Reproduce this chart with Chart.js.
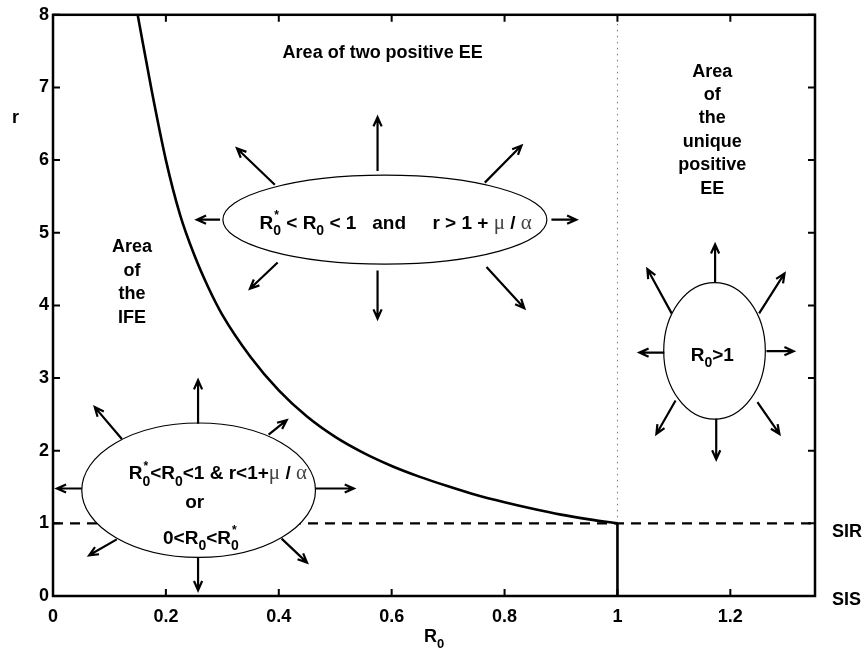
<!DOCTYPE html>
<html>
<head>
<meta charset="utf-8">
<script src="https://cdn.jsdelivr.net/npm/chart.js@4.4.0/dist/chart.umd.min.js"></script>
<style>
html, body { margin: 0; padding: 0; background: #fff; }
canvas { display: block; }
</style>
</head>
<body>
<canvas id="graphique" width="866" height="658"></canvas>
<script>
// boundary between the IFE region and the two-EE region (r against R0)
var r0Values = [0.150, 0.175, 0.200, 0.225, 0.250, 0.275, 0.300, 0.350, 0.400, 0.450, 0.500, 0.550, 0.600, 0.650, 0.700, 0.750, 0.800, 0.850, 0.900, 0.950, 1.000];
var rValues  = [8.00, 6.95, 6.00, 5.25, 4.70, 4.25, 3.87, 3.29, 2.83, 2.47, 2.19, 1.97, 1.79, 1.64, 1.51, 1.39, 1.29, 1.20, 1.12, 1.055, 1.00];

var xTicks = [0, 0.2, 0.4, 0.6, 0.8, 1, 1.2];
var xTickLabels = ['0', '0.2', '0.4', '0.6', '0.8', '1', '1.2'];
var yTicks = [0, 1, 2, 3, 4, 5, 6, 7, 8];

var sirLevel = 1;      // r = 1 (SIR line)
var r0Threshold = 1;   // R0 = 1
var xMax = 1.35;
var yMax = 8;

var FONT = '"Liberation Sans", Arial, Helvetica, sans-serif';
function bold(size) { return 'bold ' + size + 'px ' + FONT; }

// the three regions: ellipse (centre / radii in axis units), its arrows and its text
var regions = [
  {
    ell: { x: 0.588, y: 5.18, rx: 0.287, ry: 0.612 },
    arrows: [
      [0.883, 5.18, 0.927, 5.18], [0.296, 5.18, 0.255, 5.18],
      [0.575, 5.85, 0.575, 6.59], [0.575, 4.48, 0.575, 3.82],
      [0.393, 5.66, 0.326, 6.16], [0.765, 5.69, 0.830, 6.20],
      [0.398, 4.59, 0.349, 4.23], [0.768, 4.53, 0.835, 3.96]
    ],
    lines: [
      { x: 0.607, y: 5.05, parts: [
        { t: 'R', sub: '0', sup: '*' }, { t: ' < R', sub: '0' }, { t: ' < 1   and     r > 1 + ' },
        { t: '\u03bc', light: true }, { t: ' / ' }, { t: '\u03b1', light: true } ] }
    ]
  },
  {
    ell: { x: 0.258, y: 1.456, rx: 0.207, ry: 0.925 },
    arrows: [
      [0.257, 2.37, 0.257, 2.97], [0.257, 0.53, 0.257, 0.08],
      [0.051, 1.48, 0.007, 1.48], [0.465, 1.48, 0.533, 1.48],
      [0.122, 2.16, 0.074, 2.60], [0.382, 2.22, 0.414, 2.42],
      [0.113, 0.78, 0.064, 0.56], [0.405, 0.79, 0.450, 0.46]
    ],
    lines: [
      { x: 0.292, y: 1.605, parts: [
        { t: 'R', sub: '0', sup: '*' }, { t: '<R', sub: '0' }, { t: '<1 & r<1+' },
        { t: '\u03bc', light: true }, { t: ' / ' }, { t: '\u03b1', light: true } ] },
      { x: 0.251, y: 1.21, parts: [{ t: 'or' }] },
      { x: 0.262, y: 0.72, parts: [{ t: '0<R', sub: '0' }, { t: '<R', sub: '0', sup: '*' }] }
    ]
  },
  {
    ell: { x: 1.172, y: 3.374, rx: 0.090, ry: 0.939 },
    arrows: [
      [1.173, 4.31, 1.173, 4.84], [1.175, 2.44, 1.175, 1.88],
      [1.083, 3.35, 1.039, 3.35], [1.264, 3.37, 1.312, 3.37],
      [1.096, 3.89, 1.053, 4.50], [1.251, 3.89, 1.296, 4.44],
      [1.103, 2.69, 1.069, 2.23], [1.248, 2.67, 1.287, 2.23]
    ],
    lines: [
      { x: 1.168, y: 3.24, parts: [{ t: 'R', sub: '0' }, { t: '>1' }] }
    ]
  }
];

// region captions
var captions = [
  { x: 0.584, y: 7.40, lines: ['Area of two positive EE'] },
  { x: 1.168, y: 7.15, lines: ['Area', 'of', 'the', 'unique', 'positive', 'EE'] },
  { x: 0.140, y: 4.73, lines: ['Area', 'of', 'the', 'IFE'] }
];

function partWidth(ctx, p, size) {
  ctx.font = p.light ? 'normal ' + (size + 2) + 'px "Liberation Serif", serif' : bold(size);
  var w = ctx.measureText(p.t).width, extra = 0;
  if (p.sub) { ctx.font = bold(Math.round(size * 0.72)); extra = ctx.measureText(p.sub).width; }
  if (p.sup) { ctx.font = bold(Math.round(size * 0.62)); extra = Math.max(extra, ctx.measureText(p.sup).width); }
  return w + extra;
}

function drawRich(ctx, parts, cx, base, size) {
  var total = 0;
  parts.forEach(function (p) { total += partWidth(ctx, p, size); });
  var x = cx - total / 2;
  ctx.textAlign = 'left';
  ctx.textBaseline = 'alphabetic';
  parts.forEach(function (p) {
    ctx.font = p.light ? 'normal ' + (size + 2) + 'px "Liberation Serif", serif' : bold(size);
    ctx.fillStyle = p.light ? '#444' : '#000';
    ctx.fillText(p.t, x, base);
    var w = ctx.measureText(p.t).width, extra = 0;
    ctx.fillStyle = '#000';
    if (p.sub) {
      ctx.font = bold(Math.round(size * 0.72));
      ctx.fillText(p.sub, x + w, base + size * 0.33);
      extra = ctx.measureText(p.sub).width;
    }
    if (p.sup) {
      ctx.font = bold(Math.round(size * 0.62));
      ctx.fillText(p.sup, x + w + 1, base - size * 0.52);
      extra = Math.max(extra, ctx.measureText(p.sup).width);
    }
    x += w + extra;
  });
}

function arrow(ctx, x1, y1, x2, y2) {
  var a = Math.atan2(y2 - y1, x2 - x1), h = 10, s = 0.42;
  ctx.beginPath();
  ctx.moveTo(x1, y1);
  ctx.lineTo(x2, y2);
  ctx.moveTo(x2 - h * Math.cos(a - s), y2 - h * Math.sin(a - s));
  ctx.lineTo(x2, y2);
  ctx.lineTo(x2 - h * Math.cos(a + s), y2 - h * Math.sin(a + s));
  ctx.stroke();
}

var decorations = {
  id: 'decorations',
  afterDatasetsDraw: function (chart) {
    var ctx = chart.ctx, xs = chart.scales.x, ys = chart.scales.y, area = chart.chartArea;
    ctx.save();

    // ellipses, arrows and conditions
    regions.forEach(function (g) {
      var cx = xs.getPixelForValue(g.ell.x), cy = ys.getPixelForValue(g.ell.y);
      var rx = xs.getPixelForValue(g.ell.x + g.ell.rx) - cx;
      var ry = cy - ys.getPixelForValue(g.ell.y + g.ell.ry);
      ctx.beginPath();
      ctx.ellipse(cx, cy, rx, ry, 0, 0, Math.PI * 2);
      ctx.fillStyle = '#fff';
      ctx.fill();
      ctx.lineWidth = 1.2;
      ctx.strokeStyle = '#000';
      ctx.stroke();

      ctx.lineWidth = 2.2;
      ctx.lineCap = 'butt';
      ctx.lineJoin = 'miter';
      g.arrows.forEach(function (a) {
        arrow(ctx, xs.getPixelForValue(a[0]), ys.getPixelForValue(a[1]),
                   xs.getPixelForValue(a[2]), ys.getPixelForValue(a[3]));
      });

      g.lines.forEach(function (l) {
        drawRich(ctx, l.parts, xs.getPixelForValue(l.x), ys.getPixelForValue(l.y), 19);
      });
    });

    // captions
    ctx.fillStyle = '#000';
    ctx.font = bold(18);
    ctx.textAlign = 'center';
    ctx.textBaseline = 'alphabetic';
    captions.forEach(function (c) {
      var px = xs.getPixelForValue(c.x), py = ys.getPixelForValue(c.y);
      c.lines.forEach(function (t, i) { ctx.fillText(t, px, py + i * 23.4); });
    });

    // frame with inward ticks
    ctx.strokeStyle = '#000';
    ctx.lineWidth = 2.5;
    ctx.strokeRect(area.left, area.top, area.right - area.left, area.bottom - area.top);
    ctx.lineWidth = 2;
    ctx.beginPath();
    xTicks.forEach(function (v) {
      var p = xs.getPixelForValue(v);
      ctx.moveTo(p, area.bottom); ctx.lineTo(p, area.bottom - 7);
      ctx.moveTo(p, area.top); ctx.lineTo(p, area.top + 7);
    });
    yTicks.forEach(function (v) {
      var p = ys.getPixelForValue(v);
      ctx.moveTo(area.left, p); ctx.lineTo(area.left + 7, p);
      ctx.moveTo(area.right, p); ctx.lineTo(area.right - 7, p);
    });
    ctx.stroke();

    // axis titles and model labels
    ctx.textAlign = 'left';
    ctx.font = bold(18);
    ctx.fillText('r', area.left - 41, area.top + 108);
    drawRich(ctx, [{ t: 'R', sub: '0' }], (area.left + area.right) / 2, area.bottom + 46, 18);
    ctx.font = bold(18);
    ctx.textAlign = 'left';
    ctx.fillText('SIR', area.right + 17, ys.getPixelForValue(sirLevel) + 14);
    ctx.fillText('SIS', area.right + 17, ys.getPixelForValue(0) + 9);
    ctx.restore();
  }
};

var ctx = document.getElementById('graphique').getContext('2d');

var donnees = {
  datasets: [
    {
      label: 'boundary',
      data: r0Values.map(function (v, i) { return { x: v, y: rValues[i] }; }),
      showLine: true, borderColor: '#000', borderWidth: 2.6, pointRadius: 0,
      cubicInterpolationMode: 'monotone'
    },
    {
      label: 'SIR',
      data: [{ x: 0, y: sirLevel }, { x: xMax, y: sirLevel }],
      showLine: true, borderColor: '#000', borderWidth: 2.2, borderDash: [10, 7], pointRadius: 0
    },
    {
      label: 'threshold',
      data: [{ x: r0Threshold, y: sirLevel }, { x: r0Threshold, y: yMax }],
      showLine: true, borderColor: '#777', borderWidth: 1, borderDash: [1.5, 4.5], pointRadius: 0
    },
    {
      label: 'SIS',
      data: [{ x: r0Threshold, y: 0 }, { x: r0Threshold, y: sirLevel }],
      showLine: true, borderColor: '#000', borderWidth: 2.6, pointRadius: 0
    }
  ]
};

var config = {
  type: 'scatter',
  data: donnees,
  options: {
    responsive: false,
    animation: false,
    events: [],
    layout: { autoPadding: false, padding: { top: 8, right: 51, left: 0, bottom: 0 } },
    plugins: { legend: { display: false }, tooltip: { enabled: false } },
    scales: {
      x: {
        type: 'linear', min: 0, max: xMax,
        grid: { display: false, drawTicks: false },
        border: { display: false },
        afterBuildTicks: function (s) { s.ticks = xTicks.map(function (v) { return { value: v }; }); },
        afterFit: function (s) { s.height = 62; },
        ticks: {
          padding: 10, color: '#000',
          font: { family: FONT, size: 18, weight: 'bold' },
          callback: function (v) { var i = xTicks.indexOf(v); return i < 0 ? '' : xTickLabels[i]; }
        }
      },
      y: {
        type: 'linear', min: 0, max: yMax,
        grid: { display: false, drawTicks: false },
        border: { display: false },
        afterBuildTicks: function (s) { s.ticks = yTicks.map(function (v) { return { value: v }; }); },
        afterFit: function (s) { s.width = 53; },
        ticks: {
          padding: 4, color: '#000',
          font: { family: FONT, size: 18, weight: 'bold' }
        }
      }
    }
  },
  plugins: [decorations]
};

var graph = new Chart(ctx, config);
</script>
</body>
</html>
